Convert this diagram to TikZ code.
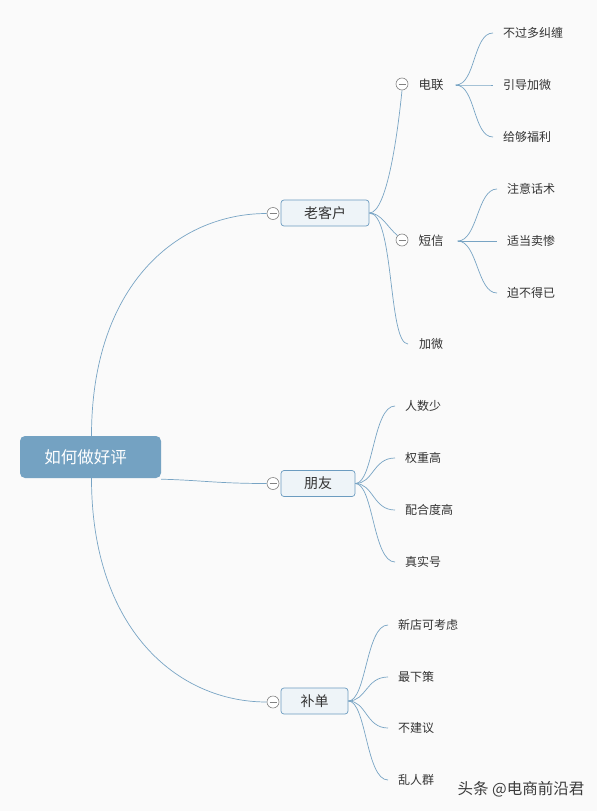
\documentclass[tikz,border=0pt]{standalone}
\usepackage{fontspec}
\setmainfont{Noto Sans CJK SC}
\definecolor{bgc}{RGB}{250,250,250}
\definecolor{linec}{RGB}{120,164,196}
\definecolor{rootc}{RGB}{116,162,194}
\definecolor{boxfill}{RGB}{238,244,248}
\definecolor{boxdraw}{RGB}{108,156,192}
\definecolor{txtc}{RGB}{51,51,51}
\definecolor{circc}{RGB}{130,130,130}
\begin{document}
\begin{tikzpicture}[x=1pt,y=-1pt,
  conn/.style={draw=linec,line width=0.7pt},
  rootbox/.style={rectangle,rounded corners=5pt,fill=rootc,minimum width=141pt,minimum height=42pt,text=white,font=\fontsize{16.5}{18}\selectfont,inner sep=0pt},
  topicbox/.style={rectangle,rounded corners=3pt,fill=boxfill,draw=boxdraw,line width=0.7pt,minimum height=26pt,text=txtc,font=\fontsize{14}{16}\selectfont,inner sep=0pt},
  collapse/.style={circle,draw=circc,fill=white,line width=0.6pt,minimum size=12pt,inner sep=0pt,
    path picture={\draw[circc,line width=0.6pt] ([xshift=-3.5pt]path picture bounding box.center) -- ([xshift=3.5pt]path picture bounding box.center);}},
  subtxt/.style={text=txtc,font=\fontsize{12.5}{14}\selectfont,inner xsep=13pt,inner ysep=2pt},
  leaf/.style={anchor=west,text=txtc,font=\fontsize{12}{14}\selectfont,inner xsep=10pt,inner ysep=2pt}
]
\fill[bgc] (0,0) rectangle (597,811);
\useasboundingbox (0,0) rectangle (597,811);

% root
\node[rootbox] (root) at (90.5,457) {\hspace*{-10pt}如何做好评};

% main topics
\node[topicbox,minimum width=88pt] (lk) at (325,213) {老客户};
\node[topicbox,minimum width=74pt] (py) at (318,483.5) {朋友};
\node[topicbox,minimum width=67pt] (bd) at (314.5,701) {补单};
\node[collapse] (clk) at (273,213.5) {};
\node[collapse] (cpy) at (273,483.5) {};
\node[collapse] (cbd) at (273,702) {};

\draw[conn] ([xshift=1pt]root.north) .. controls +(0,-150) and +(-90,0) .. (clk.west);
\draw[conn] ([yshift=-1pt]root.south east) .. controls +(40,1) and +(-50,0) .. (cpy.west);
\draw[conn] ([xshift=1pt]root.south) .. controls +(0,150) and +(-90,0) .. (cbd.west);

% 老客户 children
\node[collapse] (cdl) at (402,84) {};
\node[subtxt] (dl) at (431,85) {电联};
\node[collapse] (cdx) at (402,240) {};
\node[subtxt] (dx) at (431,241) {短信};
\node[leaf,inner xsep=11pt] (jw) at (408,344) {加微};

\draw[conn] (lk.east) .. controls +(18,0) and +(-4,40) .. (cdl.south);
\draw[conn] (lk.east) .. controls +(12,0) and +(-10,-8) .. (cdx.north west);
\draw[conn] (lk.east) .. controls +(25,0) and +(-20,0) .. (jw.west);

% 电联 leaves
\node[leaf] (a1) at (493,33) {不过多纠缠};
\node[leaf] (a2) at (493,85) {引导加微};
\node[leaf] (a3) at (493,137) {给够福利};
\foreach \n in {a1,a2,a3}
  \draw[conn] ([xshift=-1pt]dl.east) .. controls +(20,0) and +(-20,0) .. (\n.west);

% 短信 leaves
\node[leaf] (b1) at (497,189) {注意话术};
\node[leaf] (b2) at (497,241) {适当卖惨};
\node[leaf] (b3) at (497,293) {迫不得已};
\foreach \n in {b1,b2,b3}
  \draw[conn] ([xshift=1pt]dx.east) .. controls +(20,0) and +(-20,0) .. (\n.west);

% 朋友 leaves
\node[leaf] (c1) at (395,406) {人数少};
\node[leaf] (c2) at (395,458) {权重高};
\node[leaf] (c3) at (395,510) {配合度高};
\node[leaf] (c4) at (395,562) {真实号};
\foreach \n in {c1,c2,c3,c4}
  \draw[conn] (py.east) .. controls +(18,0) and +(-22,0) .. (\n.west);

% 补单 leaves
\node[leaf] (d1) at (388,625) {新店可考虑};
\node[leaf] (d2) at (388,677) {最下策};
\node[leaf] (d3) at (388,728) {不建议};
\node[leaf] (d4) at (388,780) {乱人群};
\foreach \n in {d1,d2,d3,d4}
  \draw[conn] (bd.east) .. controls +(18,0) and +(-22,0) .. (\n.west);

% watermark
\node[text={rgb,255:red,60;green,60;blue,60},font=\fontsize{15.5}{17}\selectfont] (wm) at (521,789) {头条 @电商前沿君};
\end{tikzpicture}
\end{document}
